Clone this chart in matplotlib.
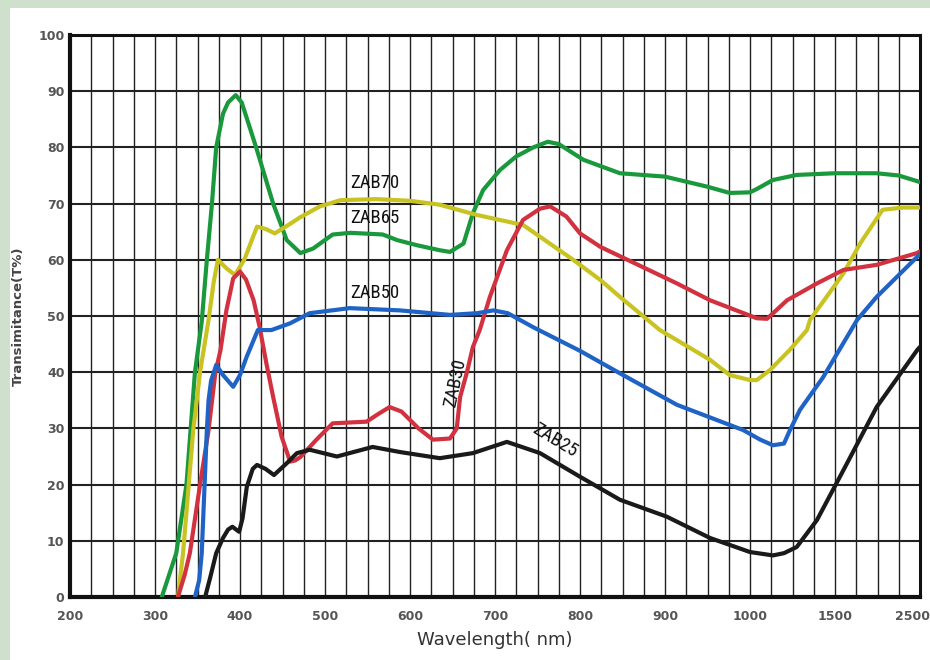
import numpy as np
import matplotlib
matplotlib.use("Agg")
import matplotlib.pyplot as plt
import matplotlib.transforms as mtransforms
from matplotlib import font_manager
from matplotlib.patches import Rectangle
from matplotlib.ticker import FixedLocator, FixedFormatter

# ---- axis definitions ----
x_ticks = [200, 300, 400, 500, 600, 700, 800, 900, 1000, 1500, 2500]
x_tick_labels = ["200", "300", "400", "500", "600", "700", "800", "900", "1000", "1500", "2500"]
y_ticks = [0, 10, 20, 30, 40, 50, 60, 70, 80, 90, 100]

# ---- series (wavelength nm, transmittance %) ----
zab65_wl = [308, 325, 337, 347, 355, 361, 367, 372, 380, 386, 395, 402, 419, 439, 455, 471, 486, 509, 530,
            568, 585, 608, 635, 647, 663, 674, 686, 706, 725, 745, 762, 775, 804, 847, 900, 950, 976, 1000,
            1040, 1135, 1275, 1500, 1990, 2250, 2465, 2500]
zab65_t = [0, 7.8, 20, 40, 49, 60, 70, 80, 86, 88, 89.3, 88, 80, 70, 63.5, 61.2, 62, 64.5, 64.8,
           64.5, 63.5, 62.6, 61.7, 61.4, 62.9, 68.3, 72.4, 76, 78.4, 80, 81, 80.6, 77.8, 75.4, 74.8, 73, 71.9, 72,
           72.6, 74.2, 75.1, 75.4, 75.4, 75, 74, 73.8]

zab70_wl = [327, 333, 345, 353, 363, 369, 374, 384, 394, 405, 420, 430, 441, 460, 470, 494, 518, 560, 600,
            635, 678, 733, 753, 792, 824, 847, 894, 953, 976, 1000, 1040, 1118, 1235, 1335, 1353, 1600,
            1800, 2060, 2300, 2500]
zab70_t = [0, 7.8, 29.7, 40, 49.3, 56, 60, 58.5, 57.3, 60, 65.9, 65.5, 64.7, 66.5, 67.5, 69.5, 70.6, 70.8, 70.5,
           69.8, 68, 66.2, 64.1, 60, 56.4, 53.4, 47.5, 42.2, 39.5, 38.6, 38.6, 40.4, 44, 47.5, 49.3, 57.6,
           63, 68.9, 69.3, 69.3]

zab50_wl = [347, 352, 355, 361, 363, 366, 372, 380, 392, 400, 408, 421, 437, 459, 482, 529, 588, 647, 679,
            698, 715, 745, 800, 847, 914, 992, 1060, 1135, 1200, 1235, 1294, 1430, 1760, 1990, 2465, 2500]
zab50_t = [0, 3, 7.8, 29.7, 35, 38.5, 41.3, 39.5, 37.4, 39.5, 42.8, 47.5, 47.5, 48.7, 50.5, 51.4, 51.0, 50.2, 50.5,
           51, 50.5, 48, 43.8, 39.8, 34.2, 29.7, 28, 27, 27.3, 29.7, 33.3, 39.1, 49.3, 53.4, 60.5, 61]

zab30_wl = [327, 335, 341, 353, 363, 371, 377, 384, 392, 400, 407, 416, 423, 431, 439, 449, 459, 465, 471,
            490, 509, 549, 562, 576, 590, 610, 627, 647, 655, 659, 667, 674, 682, 694, 714, 733, 753, 765,
            784, 800, 824, 914, 953, 1040, 1100, 1218, 1394, 1600, 1990, 2465, 2500]
zab30_t = [0, 4, 7.8, 20, 29.7, 39.9, 43.9, 51, 56.7, 57.9, 56.5, 52.8, 48.1, 41.6, 35.6, 28.5, 24.1, 24.3, 24.9,
           28, 30.9, 31.2, 32.5, 33.8, 33, 30, 28, 28.2, 30, 35.6, 40, 44.5, 47.5, 53.4, 61.7, 67.1, 69.1, 69.5,
           67.7, 64.7, 62.3, 55.8, 52.8, 49.6, 49.5, 52.8, 55.8, 58.2, 59.1, 61.2, 61.5]

zab25_wl = [359, 365, 372, 380, 386, 391, 399, 403, 408, 415, 420, 430, 440, 455, 467, 482, 514, 556, 588,
            635, 674, 714, 753, 800, 847, 902, 953, 1000, 1135, 1200, 1275, 1394, 1600, 1990, 2465, 2500]
zab25_t = [0, 3.5, 7.8, 10.5, 12, 12.5, 11.6, 14, 19.6, 22.8, 23.5, 22.8, 21.7, 23.8, 25.6, 26.2, 25, 26.7, 25.8,
           24.7, 25.6, 27.6, 25.6, 21.4, 17.3, 14.3, 10.5, 8.0, 7.4, 7.8, 8.9, 13.7, 22.6, 33.8, 43.9, 44.5]

series = [
    (zab65_wl, zab65_t, "#1a983c"),
    (zab70_wl, zab70_t, "#c9c322"),
    (zab30_wl, zab30_t, "#d2313f"),
    (zab50_wl, zab50_t, "#1f63c6"),
    (zab25_wl, zab25_t, "#1a1a1a"),
]

labels = [
    ("ZAB70", 559, 73.7, 0),
    ("ZAB65", 559, 67.4, 0),
    ("ZAB50", 559, 54.1, 0),
    ("ZAB30", 653, 38.1, 78),
    ("ZAB25", 771, 27.9, -31),
]

# ---- piecewise-linear wavelength scale ----
tick_pos = np.arange(len(x_ticks), dtype=float)


def fwd_safe(x):
    x = np.asarray(x, dtype=float)
    out = np.interp(x, x_ticks, tick_pos)
    out = np.where(x < x_ticks[0], (x - x_ticks[0]) / 100.0, out)
    out = np.where(x > x_ticks[-1], tick_pos[-1] + (x - x_ticks[-1]) / 1000.0, out)
    return out


def inv_safe(p):
    p = np.asarray(p, dtype=float)
    out = np.interp(p, tick_pos, x_ticks)
    out = np.where(p < 0, x_ticks[0] + p * 100.0, out)
    out = np.where(p > tick_pos[-1], x_ticks[-1] + (p - tick_pos[-1]) * 1000.0, out)
    return out


minor = []
for a, b in zip(x_ticks[:-1], x_ticks[1:]):
    for k in (1, 2, 3):
        minor.append(a + (b - a) * k / 4.0)

# pick a condensed font for the curve labels if one is installed
available = {f.name for f in font_manager.fontManager.ttflist}
label_family = "DejaVu Sans"
label_stretch = "normal"
for cand in ["Liberation Sans Narrow", "DejaVu Sans Condensed", "Roboto Condensed", "Open Sans Condensed"]:
    if cand in available:
        label_family = cand
        break
if label_family == "DejaVu Sans":
    for f in font_manager.fontManager.ttflist:
        if f.name == "DejaVu Sans" and str(f.stretch) in ("condensed", "semi-condensed"):
            label_stretch = "condensed"
            break

fig = plt.figure(figsize=(9.3, 6.6), dpi=100)
fig.patch.set_facecolor("#cfe0cc")
bg = Rectangle((10 / 930, 0), 1, 1 - 8 / 660, transform=fig.transFigure,
               facecolor="white", edgecolor="none", zorder=-10)
fig.patches.append(bg)

ax = fig.add_axes([70 / 930, 1 - 597 / 660, 850 / 930, 562 / 660])
ax.set_zorder(5)
ax.set_xscale("function", functions=(fwd_safe, inv_safe))
ax.set_xlim(200, 2500)
ax.set_ylim(0, 100)

ax.xaxis.set_major_locator(FixedLocator(x_ticks))
ax.xaxis.set_major_formatter(FixedFormatter(x_tick_labels))
ax.xaxis.set_minor_locator(FixedLocator(minor))
ax.yaxis.set_major_locator(FixedLocator(y_ticks))

ax.grid(True, which="major", axis="x", color="#222222", linewidth=1.0)
ax.grid(True, which="minor", axis="x", color="#222222", linewidth=1.0)
ax.grid(True, which="major", axis="y", color="#222222", linewidth=1.5)
ax.set_axisbelow(True)

ax.tick_params(axis="both", which="both", length=0)
ax.tick_params(axis="x", pad=9, labelsize=9, labelcolor="#555555")
ax.tick_params(axis="y", pad=4, labelsize=9, labelcolor="#555555")
for t in ax.get_xticklabels() + ax.get_yticklabels():
    t.set_fontweight("bold")
last = ax.get_xticklabels()[-1]
last.set_transform(last.get_transform() + mtransforms.ScaledTranslation(-8 / 100, 0, fig.dpi_scale_trans))

for side in ["left", "bottom"]:
    ax.spines[side].set_linewidth(3.0)
for side in ["top", "right"]:
    ax.spines[side].set_linewidth(2.2)
for s in ax.spines.values():
    s.set_color("#111111")

for wl, t, c in series:
    ax.plot(wl, t, color=c, linewidth=3.0, solid_joinstyle="round", solid_capstyle="round",
            clip_on=True, zorder=3)

for txt, x, y, rot in labels:
    ax.text(x, y, txt, ha="center", va="center", rotation=rot, fontsize=13.5,
            family=label_family, fontstretch=label_stretch, color="#111111", zorder=4)

ax.set_xlabel("Wavelength( nm)", fontsize=13, color="#333333", labelpad=6)
ax.set_ylabel("Transimitance(T%)", fontsize=9.5, color="#444444", fontweight="bold")
ax.yaxis.set_label_coords(-45 / 850, 0.5)

fig.savefig("out.png", dpi=100, facecolor=fig.get_facecolor())
